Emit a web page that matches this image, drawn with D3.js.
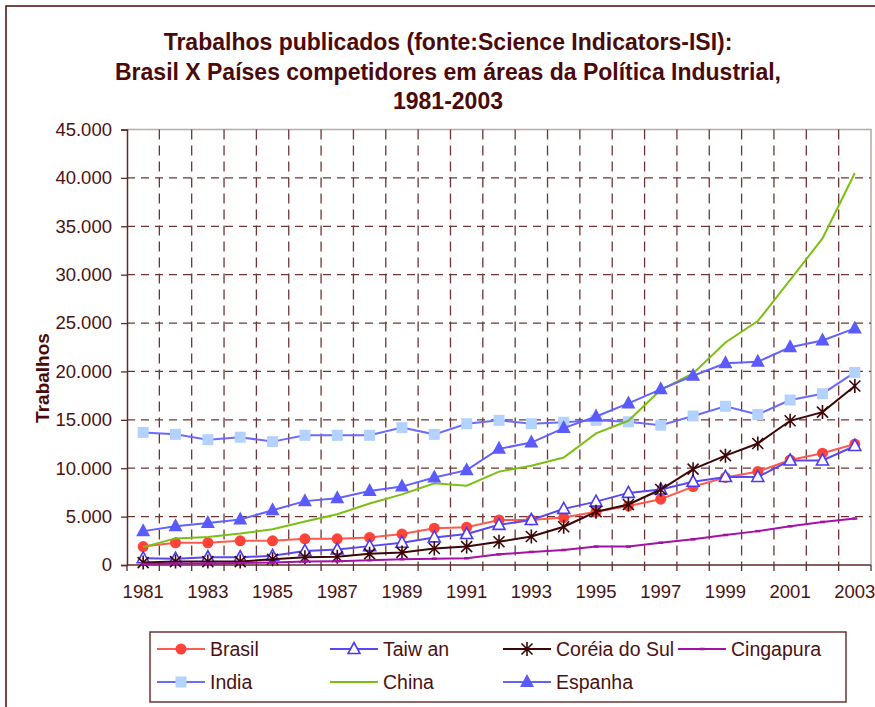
<!DOCTYPE html>
<html>
<head>
<meta charset="utf-8">
<script src="https://cdn.jsdelivr.net/npm/d3@7"></script>
<style>
body { margin: 0; background: #fff; }
text { font-family: "Liberation Sans", Arial, sans-serif; }
</style>
</head>
<body>
<div id="chart"></div>
<script>
// categories
var years = ["1981","1982","1983","1984","1985","1986","1987","1988","1989","1990","1991","1992",
             "1993","1994","1995","1996","1997","1998","1999","2000","2001","2002","2003"];
var yTicks = [0, 5000, 10000, 15000, 20000, 25000, 30000, 35000, 40000, 45000];

// series values
var brasil    = [1900,2300,2300,2500,2500,2700,2700,2850,3200,3800,3900,4650,4650,4900,5500,6100,6800,8100,9050,9650,10850,11550,12500];
var taiwan    = [700,650,800,800,950,1450,1600,1950,2300,2850,3200,4150,4650,5800,6550,7450,7800,8600,9100,9100,10800,10800,12300];
var coreia    = [250,350,350,350,600,800,850,1150,1300,1700,1900,2400,2950,3950,5500,6250,7800,9900,11300,12550,14900,15800,18500];
var cingapura = [100,150,150,200,250,350,400,500,600,650,700,1100,1350,1550,1900,1900,2300,2650,3100,3500,4000,4450,4800];
var india     = [13700,13500,12950,13200,12750,13400,13400,13400,14200,13500,14600,14950,14600,14750,14950,14800,14450,15400,16400,15550,17050,17700,19900];
var china     = [1850,2750,2900,3250,3700,4500,5250,6350,7300,8450,8200,9650,10250,11100,13600,14900,18100,19800,23000,25200,29450,33750,40500];
var espanha   = [3500,4000,4350,4700,5650,6600,6900,7650,8100,9050,9800,12000,12650,14150,15350,16700,18150,19550,20850,21000,22500,23200,24450];

var names = ["Brasil","Taiw an","Coréia do Sul","Cingapura","India","China","Espanha"];

var series = [
  {name: names[0], values: brasil,    line: "#ff5a4e", marker: "circle",   fill: "#ff4338", stroke: "none"},
  {name: names[1], values: taiwan,    line: "#5a48f0", marker: "triOpen",  fill: "#fff",    stroke: "#4b3af0"},
  {name: names[2], values: coreia,    line: "#3c0606", marker: "star",     fill: "none",    stroke: "#3c0606"},
  {name: names[3], values: cingapura, line: "#a410a8", marker: "dash",     fill: "none",    stroke: "#a410a8"},
  {name: names[4], values: india,     line: "#6a6cff", marker: "square",   fill: "#b3d2ff", stroke: "none"},
  {name: names[5], values: china,     line: "#7cbf14", marker: "none",     fill: "none",    stroke: "none"},
  {name: names[6], values: espanha,   line: "#6262ff", marker: "triFill",  fill: "#5a5aff", stroke: "none"}
];

var W = 875, H = 707;
var plotL = 127, plotR = 871, plotT = 129.5, plotB = 565;
var textCol = "#4a1212";

var svg = d3.select("#chart").append("svg")
  .attr("width", W).attr("height", H);

// outer chart border (runs off the right/bottom edge)
svg.append("rect").attr("x", 6).attr("y", 6).attr("width", 900).attr("height", 760)
  .attr("fill", "none").attr("stroke", "#4a0a0a").attr("stroke-width", 1.5);

// title
var title = ["Trabalhos publicados (fonte:Science Indicators-ISI):",
             "Brasil X Países competidores em áreas da Política Industrial,",
             "1981-2003"];
svg.append("g").selectAll("text").data(title).enter().append("text")
  .attr("x", 448).attr("y", function(d, i){ return 50 + i * 29.5; })
  .attr("text-anchor", "middle")
  .attr("font-size", "23px").attr("font-weight", "bold")
  .attr("fill", "#4a0a0a")
  .text(function(d){ return d; });

var x = d3.scalePoint().domain(years).range([plotL, plotR]).padding(0.5);
var step = x.step();
var y = d3.scaleLinear().domain([0, 45000]).range([plotB, plotT]);

// plot area border (top + right)
svg.append("path")
  .attr("d", "M" + plotL + "," + plotT + "H" + plotR + "V" + plotB)
  .attr("fill", "none").attr("stroke", "#b5aca4").attr("stroke-width", 1.5);

// horizontal dashed grid
svg.append("g").selectAll("line").data(yTicks.filter(function(d){ return d > 0 && d < 45000; }))
  .enter().append("line")
  .attr("x1", plotL).attr("x2", plotR)
  .attr("y1", function(d){ return y(d); }).attr("y2", function(d){ return y(d); })
  .attr("stroke", "#6e3434").attr("stroke-width", 1.3).attr("stroke-dasharray", "8,6");

// vertical dashed grid at category boundaries
var bounds = years.map(function(d){ return x(d) - step / 2; });
bounds.push(x(years[years.length - 1]) + step / 2);
svg.append("g").selectAll("line").data(bounds.slice(1, bounds.length - 1))
  .enter().append("line")
  .attr("x1", function(d){ return d; }).attr("x2", function(d){ return d; })
  .attr("y1", plotT).attr("y2", plotB)
  .attr("stroke", "#6e3434").attr("stroke-width", 1.3).attr("stroke-dasharray", "10,6");

// y axis
var yAxis = d3.axisLeft(y).tickValues(yTicks).tickSizeOuter(0).tickSize(6)
  .tickFormat(function(d){ return d === 0 ? "0" : d3.format(",")(d).replace(/,/g, "."); });
var gy = svg.append("g").attr("transform", "translate(" + plotL + ",0)").call(yAxis);
gy.select(".domain").attr("stroke", "#5c2a2a").attr("stroke-width", 1.5);
gy.selectAll(".tick line").attr("stroke", "#5c2a2a").attr("stroke-width", 1.3);
gy.selectAll(".tick text").attr("x", -15).attr("font-size", "18.5px")
  .attr("font-family", "'Liberation Sans', Arial, sans-serif").attr("fill", textCol);

// x axis
svg.append("line").attr("x1", plotL).attr("x2", plotR).attr("y1", plotB).attr("y2", plotB)
  .attr("stroke", "#5c2a2a").attr("stroke-width", 1.5);
svg.append("g").selectAll("line").data(bounds).enter().append("line")
  .attr("x1", function(d){ return d; }).attr("x2", function(d){ return d; })
  .attr("y1", plotB).attr("y2", plotB + 6)
  .attr("stroke", "#5c2a2a").attr("stroke-width", 1.3);
svg.append("g").selectAll("text").data(years.filter(function(d, i){ return i % 2 === 0; }))
  .enter().append("text")
  .attr("x", function(d){ return x(d); }).attr("y", 598)
  .attr("text-anchor", "middle").attr("font-size", "18.5px").attr("fill", textCol)
  .text(function(d){ return d; });

// y axis title
svg.append("text")
  .attr("transform", "translate(49,378) rotate(-90)")
  .attr("text-anchor", "middle").attr("font-size", "19px").attr("font-weight", "bold")
  .attr("fill", "#4a0a0a").text("Trabalhos");

// markers
function drawMarker(g, s, cx, cy) {
  if (s.marker === "circle") {
    g.append("circle").attr("cx", cx).attr("cy", cy).attr("r", 5.5).attr("fill", s.fill);
  } else if (s.marker === "triOpen") {
    g.append("path").attr("transform", "translate(" + cx + "," + cy + ")")
      .attr("d", "M0,-6.5L6,4.5L-6,4.5Z").attr("fill", s.fill).attr("stroke", s.stroke).attr("stroke-width", 1.6);
  } else if (s.marker === "triFill") {
    g.append("path").attr("transform", "translate(" + cx + "," + cy + ")")
      .attr("d", "M0,-8L7,5L-7,5Z").attr("fill", s.fill);
  } else if (s.marker === "square") {
    g.append("rect").attr("x", cx - 5.5).attr("y", cy - 5.5).attr("width", 11).attr("height", 11).attr("fill", s.fill);
  } else if (s.marker === "star") {
    g.append("path").attr("transform", "translate(" + cx + "," + cy + ")")
      .attr("d", "M-5.5,-5.5L5.5,5.5M-5.5,5.5L5.5,-5.5M0,-7L0,7")
      .attr("fill", "none").attr("stroke", s.stroke).attr("stroke-width", 1.6);
  } else if (s.marker === "dash") {
    g.append("line").attr("x1", cx - 2.5).attr("x2", cx + 2.5).attr("y1", cy).attr("y2", cy)
      .attr("stroke", s.stroke).attr("stroke-width", 2.5);
  }
}

var line = d3.line()
  .x(function(d, i){ return x(years[i]); })
  .y(function(d){ return y(d); });

series.forEach(function(s) {
  var g = svg.append("g");
  g.append("path").datum(s.values).attr("d", line)
    .attr("fill", "none").attr("stroke", s.line).attr("stroke-width", 2);
  s.values.forEach(function(v, i) { drawMarker(g, s, x(years[i]), y(v)); });
});

// legend
var lg = svg.append("g");
lg.append("rect").attr("x", 150).attr("y", 632).attr("width", 696).attr("height", 70)
  .attr("fill", "#fff").attr("stroke", "#6e3434").attr("stroke-width", 1.5);
var colX = [157, 330, 503, 678];
series.forEach(function(s, i) {
  var lx = colX[i % 4], ly = i < 4 ? 649 : 682;
  var item = lg.append("g");
  item.append("line").attr("x1", lx).attr("x2", lx + 48).attr("y1", ly).attr("y2", ly)
    .attr("stroke", s.line).attr("stroke-width", 2);
  drawMarker(item, s, lx + 24, ly);
  item.append("text").attr("x", lx + 53).attr("y", ly + 7)
    .attr("font-size", "19.5px").attr("fill", textCol).text(s.name);
});
</script>
</body>
</html>
